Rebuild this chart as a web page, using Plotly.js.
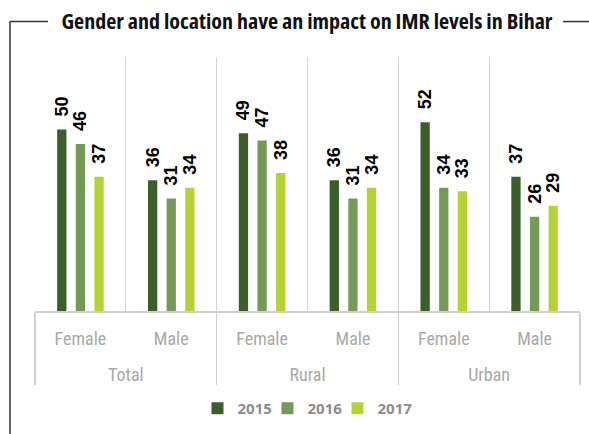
<!DOCTYPE html>
<html>
<head>
<meta charset="utf-8">
<script src="https://cdn.plot.ly/plotly-3.0.1.min.js"></script>
<style>
html,body{margin:0;padding:0;background:#fff;}
#chart{width:589px;height:434px;}
#chart text:not(.bartext){font-stretch:75% !important;}
#chart .legend .scrollbox{clip-path:none !important;}
</style>
</head>
<body>
<div id="chart"></div>
<script>
const locations = ["<br>Total", "<br>Total", "<br>Rural", "<br>Rural", "<br>Urban", "<br>Urban"];
const genders = ["Female", "Male", "Female", "Male", "Female", "Male"];
const years = ["2015", "2016", "2017"];
const v2015 = [50, 36, 49, 36, 52, 37];
const v2016 = [46, 31, 47, 31, 34, 26];
const v2017 = [37, 34, 38, 34, 33, 29];
const colors = ["#3b5e2b", "#739a57", "#b5d334"];

const series = [v2015, v2016, v2017];
const NB = "\u00a0\u00a0";
const traces = series.map((vals, i) => ({
  type: "bar",
  name: years[i],
  x: [locations, genders],
  y: vals,
  marker: {color: colors[i]},
  text: vals.map(v => NB + v),
  textposition: "outside",
  textangle: -90,
  constraintext: "none",
  cliponaxis: false,
  textfont: {family: "Liberation Sans, Arial, sans-serif", size: 18, color: "#000", weight: "bold"},
  hoverinfo: "none"
}));

const pw = 545, ph = 258, l = 35, t = 57;
const px = x => (x - l) / pw;
const py = y => (t + ph - y) / ph;

const layout = {
  width: 589, height: 434,
  margin: {l: l, r: 9, t: t, b: 119},
  paper_bgcolor: "#fff", plot_bgcolor: "#fff",
  title: {text: "Gender and location have an impact on IMR levels in Bihar",
    x: 307/589, xanchor: "center", y: 1 - 21/434, yanchor: "middle",
    font: {family: "'Open Sans'", size: 22, color: "#111", weight: "bold"}},
  barmode: "group", bargap: 0.385, bargroupgap: 0.5,
  showlegend: true,
  legend: {orientation: "h", x: 0.5 - 5/545, xanchor: "center", y: py(414), yanchor: "middle",
    entrywidth: 25, entrywidthmode: "pixels",
    font: {family: "'Noto Sans'", size: 15, color: "#8c8c8c", weight: "bold"}, traceorder: "normal"},
  xaxis: {type: "multicategory", tickson: "boundaries", showgrid: true, gridcolor: "#d4d4d4",
    showline: true, linecolor: "#d0d0d0", linewidth: 1.5, ticks: "", showdividers: true,
    dividercolor: "#d0d0d0", dividerwidth: 1.5, ticklabelstandoff: 11,
    tickfont: {family: "Roboto", size: 18, color: "#a8a8a8", weight: 400}},
  yaxis: {range: [0, 70], showgrid: false, showticklabels: false, zeroline: false, showline: false, ticks: ""},
  shapes: [
    {type: "line", xref: "paper", yref: "paper", x0: px(10), x1: px(10), y0: py(21), y1: py(440), line: {color: "#333", width: 1.5}},
    {type: "line", xref: "paper", yref: "paper", x0: px(10), x1: px(48), y0: py(21), y1: py(21), line: {color: "#333", width: 1.5}},
    {type: "line", xref: "paper", yref: "paper", x0: px(563), x1: px(592), y0: py(21), y1: py(21), line: {color: "#333", width: 1.5}}
  ]
};
Plotly.newPlot("chart", traces, layout, {displayModeBar: false, staticPlot: true});
</script>
</body>
</html>
